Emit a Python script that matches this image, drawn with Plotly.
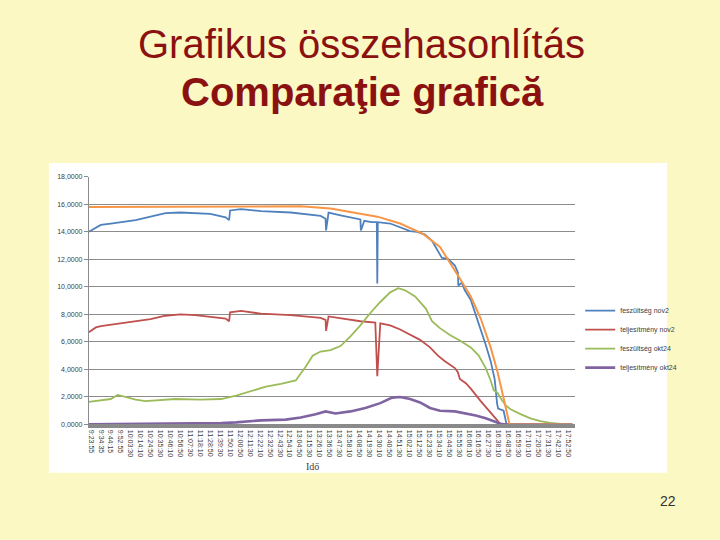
import plotly.graph_objects as go

# ---------------- data ----------------
time_labels = ["9:23:55", "9:34:35", "9:44:15", "9:52:55",
               "10:03:30", "10:14:10", "10:24:50", "10:35:30", "10:46:10", "10:56:50",
               "11:07:30", "11:18:10", "11:28:50", "11:39:30", "11:50:10", "12:00:50",
               "12:11:30", "12:22:10", "12:32:50", "12:43:30", "12:54:10", "13:04:50",
               "13:15:30", "13:26:10", "13:36:50", "13:47:30", "13:58:10", "14:08:50",
               "14:19:30", "14:30:10", "14:40:50", "14:51:30", "15:02:10", "15:12:50",
               "15:23:30", "15:34:10", "15:44:50", "15:55:30", "16:06:10", "16:16:50",
               "16:27:30", "16:38:10", "16:48:50", "16:59:30", "17:10:10", "17:20:50",
               "17:31:30", "17:42:10", "17:52:50"]
tick_pos = list(range(len(time_labels)))

y_ticks = [0, 2, 4, 6, 8, 10, 12, 14, 16, 18]
y_tick_text = ["0,0000", "2,0000", "4,0000", "6,0000", "8,0000", "10,0000",
               "12,0000", "14,0000", "16,0000", "18,0000"]

# feszültség nov2 (blue)
fesz_nov2_x = [-0.2, 0.2, 1.0, 2.0, 3.0, 4.5, 6.0, 7.5, 9.0, 10.5, 12.0, 13.55, 13.9, 14.0,
               15.1, 17.1, 20.1, 23.1, 23.6, 23.65, 23.9, 25.1, 26.6, 27.1, 27.15, 27.5,
               28.2, 28.75, 28.8, 28.85, 30.1, 31.1, 32.1, 32.8, 33.6, 34.3, 34.9, 35.3,
               35.9, 36.6, 36.9, 36.95, 37.3, 37.6, 38.2, 38.7, 39.2, 39.7, 40.2, 40.6,
               40.85, 40.95, 41.5, 41.8, 48.4]
fesz_nov2_y = [14.0, 14.15, 14.5, 14.6, 14.7, 14.85, 15.1, 15.35, 15.4, 15.35, 15.3, 15.05, 14.85, 15.55,
               15.65, 15.5, 15.4, 15.15, 14.95, 14.1, 15.4, 15.2, 14.95, 14.9, 14.1, 14.8,
               14.7, 14.7, 10.25, 14.7, 14.6, 14.35, 14.05, 14.0, 13.8, 13.35, 12.6, 12.1,
               12.05, 11.55, 11.05, 10.1, 10.3, 9.75, 9.05, 8.0, 6.9, 5.8, 4.6, 3.3,
               1.5, 1.15, 1.0, 0.0, 0.0]

# teljesítmény nov2 (red)
telj_nov2_x = [-0.2, 0.5, 1.0, 3.0, 5.0, 6.0, 7.5, 9.0, 10.5, 12.0, 13.55, 13.9, 14.0,
               15.1, 17.1, 20.1, 23.1, 23.6, 23.65, 23.9, 25.1, 27.1, 28.6, 28.8, 29.1,
               30.1, 31.1, 32.1, 33.1, 34.1, 34.9, 35.6, 36.6, 36.9, 37.1, 37.7, 38.2,
               39.2, 40.2, 40.8, 41.2, 48.4]
telj_nov2_y = [6.7, 7.05, 7.15, 7.35, 7.5, 7.65, 7.9, 8.0, 7.95, 7.85, 7.7, 7.5, 8.15,
               8.25, 8.05, 7.95, 7.75, 7.6, 6.8, 7.85, 7.7, 7.5, 7.4, 3.5, 7.35,
               7.2, 6.9, 6.55, 6.15, 5.6, 5.0, 4.6, 4.1, 3.8, 3.3, 3.0, 2.6,
               1.7, 0.9, 0.35, 0.0, 0.0]

# feszültség okt24 (green)
fesz_okt24_x = [-0.2, 1.0, 2.0, 2.7, 3.5, 4.5, 5.5, 7.0, 8.5, 11.0, 13.1, 14.6, 16.1, 17.6,
                19.1, 20.6, 21.1, 21.6, 22.3, 23.1, 24.1, 25.1, 26.1, 27.1, 28.1, 29.1,
                30.1, 30.9, 31.6, 32.6, 33.7, 34.3, 35.1, 36.1, 37.1, 38.2, 39.0, 39.7,
                40.2, 40.5, 40.9, 41.2, 41.7, 42.2, 43.2, 44.2, 45.2, 46.2, 47.2, 48.4]
fesz_okt24_y = [1.65, 1.75, 1.85, 2.15, 2.0, 1.8, 1.7, 1.75, 1.85, 1.8, 1.85, 2.1, 2.4, 2.75,
                2.95, 3.2, 3.7, 4.2, 5.0, 5.3, 5.4, 5.7, 6.4, 7.2, 8.1, 8.9,
                9.6, 9.9, 9.75, 9.3, 8.4, 7.5, 7.0, 6.5, 6.1, 5.6, 5.0, 4.1,
                3.2, 2.5, 2.3, 1.9, 1.4, 1.1, 0.75, 0.45, 0.25, 0.12, 0.05, 0.0]

# teljesítmény okt24 (purple)
telj_okt24_x = [-0.2, 11.0, 13.1, 14.6, 17.1, 19.6, 21.1, 22.6, 23.6, 24.6, 26.1, 27.6,
                29.1, 30.3, 31.1, 32.1, 33.1, 34.1, 35.1, 36.6, 37.7, 38.7, 39.7, 40.7,
                41.2, 41.7, 48.4]
telj_okt24_y = [0.02, 0.05, 0.1, 0.15, 0.3, 0.35, 0.5, 0.75, 0.95, 0.8, 0.95, 1.2,
                1.55, 1.95, 2.0, 1.85, 1.6, 1.2, 1.0, 0.95, 0.8, 0.65, 0.45, 0.2,
                0.05, 0.0, 0.0]

# reference curve (orange, not in legend)
ref_x = [-0.2, 14.1, 14.2, 21.1, 24.1, 26.1, 28.8, 31.1, 33.4, 35.1, 36.1, 37.1, 38.2,
         39.2, 40.2, 40.9, 41.5, 41.9, 42.1, 48.4]
ref_y = [15.8, 15.8, 15.85, 15.85, 15.7, 15.45, 15.1, 14.6, 13.85, 12.9, 11.8, 10.6, 9.3,
         7.7, 5.6, 3.8, 1.9, 0.5, 0.0, 0.0]

# ---------------- figure ----------------
W, H = 720, 540


def px_x(p):
    return p / W


def px_y(p):
    return 1 - p / H


fig = go.Figure()

fig.add_trace(go.Scatter(x=fesz_nov2_x, y=fesz_nov2_y, mode="lines", name="feszültség nov2",
                         line=dict(color="#4F81BD", width=1.8)))
fig.add_trace(go.Scatter(x=telj_nov2_x, y=telj_nov2_y, mode="lines", name="teljesítmény nov2",
                         line=dict(color="#C0504D", width=1.8)))
fig.add_trace(go.Scatter(x=fesz_okt24_x, y=fesz_okt24_y, mode="lines", name="feszültség okt24",
                         line=dict(color="#9BBB59", width=1.8)))
fig.add_trace(go.Scatter(x=telj_okt24_x, y=telj_okt24_y, mode="lines", name="teljesítmény okt24",
                         line=dict(color="#8064A2", width=2.6)))
fig.add_trace(go.Scatter(x=ref_x, y=ref_y, mode="lines", name="elméleti",
                         line=dict(color="#F79646", width=2), showlegend=False))

fig.update_layout(
    width=W, height=H,
    margin=dict(l=0, r=0, t=0, b=0),
    paper_bgcolor="#FCF8C3",
    plot_bgcolor="white",
    font=dict(family="Liberation Sans, Arial, sans-serif", color="#404040"),
    showlegend=True,
    legend=dict(x=px_x(580), y=px_y(296), xanchor="left", yanchor="top",
                bgcolor="rgba(0,0,0,0)", font=dict(size=7, color="#404040"),
                itemwidth=30, tracegroupgap=0),
    xaxis=dict(domain=[px_x(88), px_x(575)], range=[-0.2, 48.7],
               tickmode="array", tickvals=tick_pos, ticktext=time_labels,
               tickangle=90, tickfont=dict(size=7, color="#404040"),
               showgrid=False, zeroline=False, showline=True,
               linecolor="#8A8A8A", linewidth=4, ticks=""),
    yaxis=dict(domain=[px_y(426), px_y(175)], range=[0, 18],
               tickmode="array", tickvals=y_ticks, ticktext=y_tick_text,
               tickfont=dict(size=7, color="#404040"),
               showgrid=True, gridcolor="#8C8C8C", gridwidth=1,
               zeroline=False, showline=True, linecolor="#8C8C8C", linewidth=1,
               ticks="outside", ticklen=4, tickcolor="#8C8C8C"),
    shapes=[dict(type="rect", xref="paper", yref="paper",
                 x0=px_x(48), x1=px_x(667), y0=px_y(475), y1=px_y(161),
                 fillcolor="white", line=dict(width=0), layer="below")],
    annotations=[
        dict(text="Grafikus összehasonlítás", xref="paper", yref="paper",
             x=px_x(361), y=px_y(41), xanchor="center", yanchor="middle",
             showarrow=False, font=dict(size=40, color="#8B1111",
                                        family="Liberation Sans, Arial, sans-serif")),
        dict(text="<b>Comparaţie grafică</b>", xref="paper", yref="paper",
             x=px_x(362), y=px_y(89), xanchor="center", yanchor="middle",
             showarrow=False, font=dict(size=40, color="#8B1111",
                                        family="Liberation Sans, Arial, sans-serif")),
        dict(text="Idő", xref="paper", yref="paper",
             x=px_x(312), y=px_y(469), xanchor="center", yanchor="middle",
             showarrow=False, font=dict(size=10, color="#404040",
                                        family="Liberation Serif, Times New Roman, serif")),
        dict(text="22", xref="paper", yref="paper",
             x=px_x(668), y=px_y(504), xanchor="center", yanchor="middle",
             showarrow=False, font=dict(size=14, color="#333333",
                                        family="Liberation Sans, Arial, sans-serif")),
    ],
)

fig.write_html("out.html",
               config={"displayModeBar": False},
               post_script="document.body.style.margin='0';document.body.style.padding='0';")
